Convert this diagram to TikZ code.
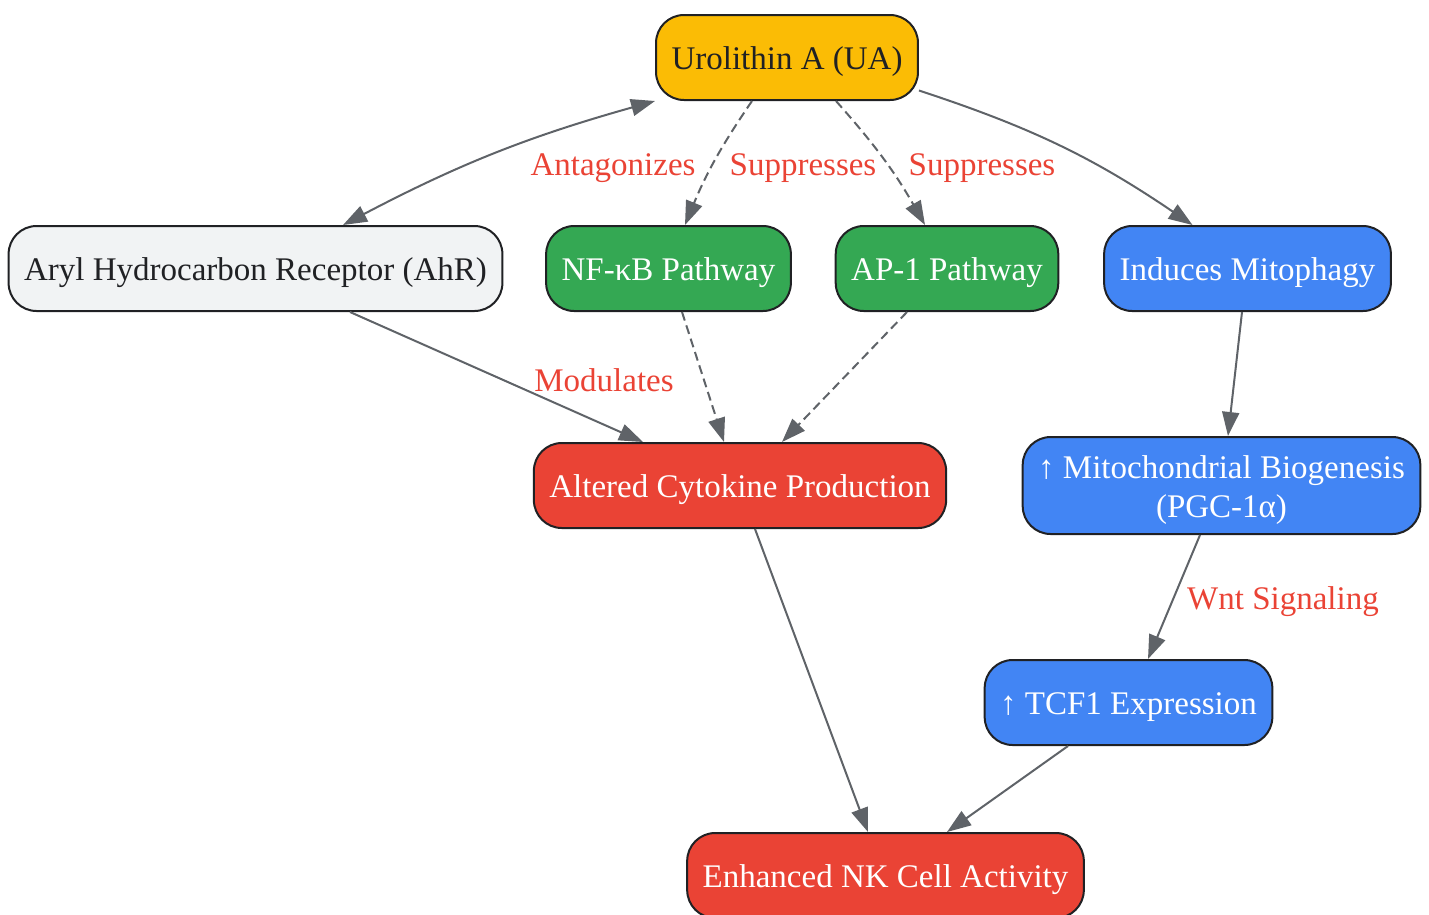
\documentclass[tikz,border=0pt]{standalone}
\usepackage{fontspec}
\setmainfont{Liberation Serif}
\usetikzlibrary{arrows.meta}
\definecolor{uaYellow}{HTML}{FBBC05}
\definecolor{pathGreen}{HTML}{34A853}
\definecolor{mitoBlue}{HTML}{4285F4}
\definecolor{nkRed}{HTML}{EA4335}
\definecolor{ahrGrey}{HTML}{F1F3F4}
\definecolor{edgeGrey}{HTML}{5F6368}
\definecolor{boxLine}{HTML}{202124}

\begin{document}
\begin{tikzpicture}
      [ x=1pt, y=-1pt
      , >={Triangle[length=24pt, width=17pt]}
      , box/.style={draw=boxLine, line width=2pt, rounded corners=28pt,
          text height=30pt, text depth=6pt, inner ysep=24.5pt,
          inner xsep=15.5pt, align=center,
          font=\fontsize{33}{39}\selectfont}
      , plain/.style={edgeGrey, line width=2pt}
      , suppress/.style={edgeGrey, line width=2pt, dash pattern=on 9pt off 5pt}
      , lbl/.style={text=nkRed, font=\fontsize{33}{39}\selectfont}
      ]
    \useasboundingbox (0,0) rectangle (1429,914);

    \node[box, fill=uaYellow, text=boxLine] (UA) at (787,57.5) {Urolithin A (UA)};
    \node[box, fill=ahrGrey, text=boxLine] (AhR) at (255.5,268.5) {Aryl Hydrocarbon Receptor (AhR)};
    \node[box, fill=pathGreen, text=white] (NFkB) at (668.5,268.5) {NF-κB Pathway};
    \node[box, fill=pathGreen, text=white] (AP1) at (947,268.5) {AP-1 Pathway};
    \node[box, fill=mitoBlue, text=white] (Mito) at (1247.5,268.5) {Induces Mitophagy};
    \node[box, fill=nkRed, text=white] (Cyto) at (740,485.5) {Altered Cytokine Production};
    \node[box, fill=mitoBlue, text=white, text height=69pt, inner ysep=11pt] (Bio) at (1221.5,485.5)
      {↑ Mitochondrial Biogenesis\\(PGC-1α)};
    \node[box, fill=mitoBlue, text=white] (TCF) at (1128.5,702.5) {↑ TCF1 Expression};
    \node[box, fill=nkRed, text=white] (NK) at (885.5,875.5) {Enhanced NK Cell Activity};

    \path[<->, plain]
    (UA.south west) edge[bend right=6] ([xshift=87.5pt]AhR.north);

    \path[->, plain]
    ([yshift=-33pt]UA.east) edge[bend left=8] ([xshift=-55pt]Mito.north)

    ([xshift=94.5pt]AhR.south) edge ([xshift=-97pt]Cyto.north)

    ([xshift=-5.5pt]Mito.south) edge ([xshift=6.5pt]Bio.north)
    ([xshift=-21.5pt]Bio.south) edge ([xshift=19.5pt]TCF.north)

    ([xshift=15pt]Cyto.south) edge ([xshift=-17.5pt]NK.north)
    ([xshift=-60.5pt]TCF.south) edge ([xshift=61.5pt]NK.north);

    \path[->, suppress]
    ([xshift=-35pt]UA.south) edge[bend right=6] ([xshift=16.5pt]NFkB.north)
    ([xshift=49pt]UA.south) edge[bend left=6] ([xshift=-22pt]AP1.north)

    ([xshift=13.5pt]NFkB.south) edge ([xshift=-16pt]Cyto.north)
    ([xshift=-40pt]AP1.south) edge ([xshift=42pt]Cyto.north);

    \node[lbl] (lAnt) at (613,168) {Antagonizes};
    \node[lbl] (lSupNF) at (803,168) {Suppresses};
    \node[lbl] (lSupAP) at (982,168) {Suppresses};
    \node[lbl] (lMod) at (604,380) {Modulates};
    \node[lbl] (lWnt) at (1283,602) {Wnt Signaling};
    \end{tikzpicture}
\end{document}
